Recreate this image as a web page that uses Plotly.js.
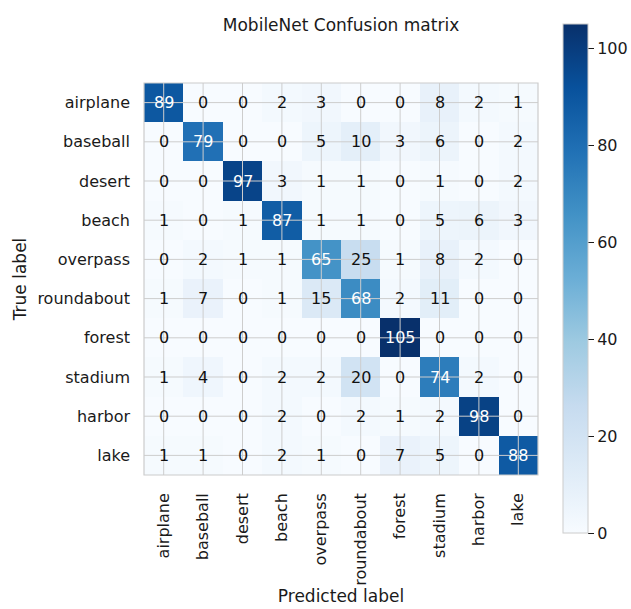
<!DOCTYPE html>
<html>
<head>
<meta charset="utf-8">
<script src="https://cdn.plot.ly/plotly-3.0.1.min.js"></script>
<style>
  html, body { margin: 0; padding: 0; background: #fff; }
  #chart { width: 631px; height: 609px; }
</style>
</head>
<body>
<div id="chart"></div>
<script>
// Class names, shared by the predicted (columns) and true (rows) axes
const classes = ["airplane", "baseball", "desert", "beach", "overpass",
                 "roundabout", "forest", "stadium", "harbor", "lake"];

// Confusion counts, one row per true class
const airplane   = [89, 0, 0, 2, 3, 0, 0, 8, 2, 1];
const baseball   = [0, 79, 0, 0, 5, 10, 3, 6, 0, 2];
const desert     = [0, 0, 97, 3, 1, 1, 0, 1, 0, 2];
const beach      = [1, 0, 1, 87, 1, 1, 0, 5, 6, 3];
const overpass   = [0, 2, 1, 1, 65, 25, 1, 8, 2, 0];
const roundabout = [1, 7, 0, 1, 15, 68, 2, 11, 0, 0];
const forest     = [0, 0, 0, 0, 0, 0, 105, 0, 0, 0];
const stadium    = [1, 4, 0, 2, 2, 20, 0, 74, 2, 0];
const harbor     = [0, 0, 0, 2, 0, 2, 1, 2, 98, 0];
const lake       = [1, 1, 0, 2, 1, 0, 7, 5, 0, 88];

const colorbarTicks = [0, 20, 40, 60, 80, 100];

const matrix = [airplane, baseball, desert, beach, overpass,
                roundabout, forest, stadium, harbor, lake];

// Matplotlib "Blues" colour map
const blues = [
  [0.000, "#f7fbff"], [0.125, "#deebf7"], [0.250, "#c6dbef"],
  [0.375, "#9ecae1"], [0.500, "#6baed6"], [0.625, "#4292c6"],
  [0.750, "#2171b5"], [0.875, "#08519c"], [1.000, "#08306b"]
];

const zmax = Math.max(...matrix.map(r => Math.max(...r)));
const thresh = zmax / 2;

const FONT = "DejaVu Sans, Liberation Sans, sans-serif";
const INK = "#1a1a1a";
const GRID = "#cdcdcd";

const heat = {
  type: "heatmap",
  x: classes,
  y: classes,
  z: matrix,
  zmin: 0,
  zmax: zmax,
  colorscale: blues,
  colorbar: {
    thickness: 25,
    lenmode: "pixels",
    len: 509,
    x: 1.0635,
    xanchor: "left",
    y: 1.1505,
    yanchor: "top",
    xpad: 0,
    ypad: 0,
    outlinecolor: "#cccccc",
    outlinewidth: 1,
    ticks: "outside",
    ticklen: 6,
    tickwidth: 1,
    tickcolor: INK,
    tickvals: colorbarTicks,
    tickfont: { family: FONT, size: 16, color: INK }
  }
};

// Cell count labels, white on dark cells
const annotations = [];
matrix.forEach((row, i) => {
  row.forEach((v, j) => {
    annotations.push({
      x: classes[j], y: classes[i], xref: "x", yref: "y",
      text: String(v), showarrow: false,
      font: { family: FONT, size: 16, color: v > thresh ? "#ffffff" : "#111111" }
    });
  });
});

// Grid lines through the cell centres, drawn over the cells
const shapes = [];
classes.forEach(c => {
  shapes.push({ type: "line", xref: "x", yref: "paper", x0: c, x1: c, y0: 0, y1: 1,
                line: { color: GRID, width: 1 }, layer: "above" });
  shapes.push({ type: "line", xref: "paper", yref: "y", x0: 0, x1: 1, y0: c, y1: c,
                line: { color: GRID, width: 1 }, layer: "above" });
});
// Plot frame
shapes.push({ type: "rect", xref: "paper", yref: "paper", x0: 0, x1: 1, y0: 0, y1: 1,
              line: { color: "#cccccc", width: 1.2 }, layer: "above" });

const layout = {
  width: 631,
  height: 609,
  margin: { l: 144, r: 93, t: 83, b: 134, autoexpand: false },
  paper_bgcolor: "#ffffff",
  plot_bgcolor: "#ffffff",
  font: { family: FONT, color: INK },
  title: {
    text: "MobileNet Confusion matrix",
    font: { family: FONT, size: 17, color: INK },
    x: 0.5, xref: "paper", xanchor: "center",
    y: 1 - 25 / 609, yref: "container", yanchor: "middle"
  },
  xaxis: {
    type: "category",
    tickangle: -90,
    tickfont: { family: FONT, size: 16, color: INK },
    ticklabelstandoff: 14,
    showgrid: false, zeroline: false, showline: false, ticks: "",
    title: { text: "Predicted label", font: { family: FONT, size: 17, color: INK }, standoff: 3 },
    automargin: false
  },
  yaxis: {
    type: "category",
    autorange: "reversed",
    tickfont: { family: FONT, size: 16, color: INK },
    ticklabelstandoff: 13,
    showgrid: false, zeroline: false, showline: false, ticks: "",
    title: { text: "True label", font: { family: FONT, size: 17, color: INK }, standoff: 6 },
    automargin: false
  },
  annotations: annotations,
  shapes: shapes
};

Plotly.newPlot("chart", [heat], layout, { displayModeBar: false, staticPlot: true });
</script>
</body>
</html>
